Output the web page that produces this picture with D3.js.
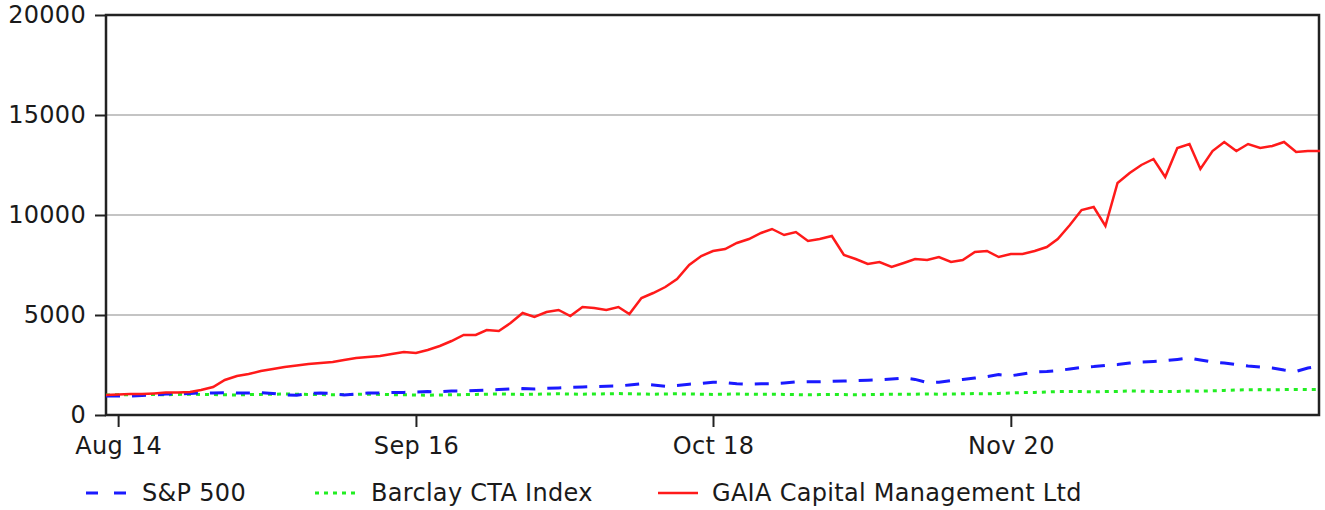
<!DOCTYPE html>
<html>
<head>
<meta charset="utf-8">
<script src="https://cdn.jsdelivr.net/npm/d3@7"></script>
<style>
  body { margin: 0; background: #fff; }
  svg { display: block; font-family: "DejaVu Sans", sans-serif; }
</style>
</head>
<body>
<div id="chart"></div>
<script>
// Monthly points, Jul 2014 .. Jan 2023
const startMonth = "2014-07";
const endMonth = "2023-01";

const sp500 = [
  950, 950, 950, 980, 1000, 1050, 1050, 1080, 1100, 1100, 1120,
  1100, 1100, 1120, 1080, 1000, 990, 1080, 1100, 1080, 1000,
  1050, 1100, 1100, 1120, 1130, 1150, 1170, 1160, 1200, 1200,
  1220, 1250, 1270, 1300, 1320, 1300, 1330, 1350, 1380, 1400,
  1420, 1440, 1450, 1500, 1560, 1500, 1440, 1480, 1540, 1580,
  1640, 1620, 1560, 1540, 1560, 1560, 1600, 1650, 1660, 1660,
  1680, 1700, 1720, 1740, 1760, 1800, 1850, 1780, 1620, 1640,
  1720, 1780, 1850, 1920, 2020, 1960, 2050, 2150, 2180, 2220,
  2300, 2380, 2420, 2480, 2520, 2600, 2650, 2680, 2720, 2780,
  2850, 2750, 2650, 2600, 2520, 2450, 2400, 2350, 2250, 2180, 2350, 2450
];

const barclay = [
  1000, 1010, 1020, 1030, 1020, 1010, 1030, 1040, 1030, 1020, 1010,
  1000, 1020, 1030, 1040, 1050, 1040, 1030, 1020, 1010, 1020,
  1030, 1040, 1030, 1020, 1010, 1000, 990, 1000, 1010, 1020,
  1030, 1040, 1050, 1040, 1030, 1040, 1050, 1060, 1050, 1040,
  1050, 1060, 1070, 1060, 1050, 1040, 1050, 1060, 1050, 1040,
  1030, 1040, 1050, 1040, 1030, 1040, 1030, 1020, 1010, 1020,
  1030, 1020, 1010, 1020, 1030, 1040, 1030, 1040, 1050, 1040,
  1050, 1060, 1070, 1060, 1080, 1100, 1120, 1130, 1150, 1170,
  1180, 1170, 1160, 1170, 1180, 1200, 1190, 1180, 1170, 1180,
  1200, 1190, 1210, 1230, 1250, 1260, 1270, 1260, 1270, 1280, 1270, 1280
];

const gaia = [
  1000, 1030, 1050, 1050, 1080, 1120, 1130, 1150, 1250, 1400, 1750,
  1950, 2050, 2200, 2300, 2400, 2480, 2550, 2600, 2650, 2750,
  2850, 2900, 2950, 3050, 3150, 3100, 3250, 3450, 3700, 4000,
  4000, 4250, 4200, 4600, 5100, 4900, 5150, 5250, 4950, 5400,
  5350, 5250, 5400, 5050, 5850, 6100, 6400, 6800, 7500, 7950,
  8200, 8300, 8600, 8800, 9100, 9300, 9000, 9150, 8700, 8800,
  8950, 8000, 7800, 7550, 7650, 7400, 7600, 7800, 7750, 7900,
  7650, 7750, 8150, 8200, 7900, 8050, 8050, 8200, 8400, 8800,
  9500, 10250, 10400, 9450, 11600, 12100, 12500, 12800, 11900, 13350,
  13550, 12300, 13200, 13650, 13200, 13550, 13350, 13450, 13650, 13150, 13200, 13200
];

const tickMonths = ["2014-08", "2016-09", "2018-10", "2020-11"];
const yTicks = [0, 5000, 10000, 15000, 20000];

const seriesNames = ["S&P 500", "Barclay CTA Index", "GAIA Capital Management Ltd"];

const width = 1325;
const height = 510;
const marginTop = 15;
const marginRight = 5;
const marginBottom = 95;
const marginLeft = 106;
const fontSize = 24;

const parseMonth = d3.utcParse("%Y-%m");
const dates = d3.utcMonth.range(parseMonth(startMonth), d3.utcMonth.offset(parseMonth(endMonth), 1));

const x = d3.scaleUtc(
  [parseMonth(startMonth), parseMonth(endMonth)],
  [marginLeft, width - marginRight]
);
const y = d3.scaleLinear([0, 20000], [height - marginBottom, marginTop]);

const svg = d3.create("svg").attr("width", width).attr("height", height);

// gridlines
svg.append("g")
  .selectAll("line")
  .data([5000, 10000, 15000])
  .join("line")
  .attr("x1", marginLeft)
  .attr("x2", width - marginRight)
  .attr("y1", d => y(d))
  .attr("y2", d => y(d))
  .attr("stroke", "#c4c4c4")
  .attr("stroke-width", 2);

const styleText = g => g.selectAll(".tick text")
  .attr("font-size", fontSize)
  .attr("letter-spacing", 0.3)
  .attr("fill", "#1a1a1a")
  .attr("font-family", "DejaVu Sans, sans-serif");

// y axis
svg.append("g")
  .attr("transform", `translate(${marginLeft},0)`)
  .call(d3.axisLeft(y).tickValues(yTicks).tickSize(11).tickPadding(9).tickFormat(d3.format("d")))
  .call(g => g.select(".domain").remove())
  .call(g => g.selectAll(".tick line").attr("stroke", "#222").attr("stroke-width", 2))
  .call(styleText);

// x axis
svg.append("g")
  .attr("transform", `translate(0,${height - marginBottom})`)
  .call(d3.axisBottom(x).tickValues(tickMonths.map(parseMonth)).tickSize(12).tickPadding(10)
    .tickFormat(d3.utcFormat("%b %y")))
  .call(g => g.select(".domain").remove())
  .call(g => g.selectAll(".tick line").attr("stroke", "#222").attr("stroke-width", 2))
  .call(styleText);

// frame
svg.append("rect")
  .attr("x", marginLeft)
  .attr("y", marginTop)
  .attr("width", width - marginRight - marginLeft - 1)
  .attr("height", height - marginBottom - marginTop)
  .attr("fill", "none")
  .attr("stroke", "#222")
  .attr("stroke-width", 2.5);

const line = d3.line()
  .x((d, i) => x(dates[i]))
  .y(d => y(d));

const styles = [
  { data: sp500, color: "#1a1aff", dash: "14,12", w: 3 },
  { data: barclay, color: "#22ee22", dash: "4,5", w: 3 },
  { data: gaia, color: "#ff1a1a", dash: null, w: 2.5 }
];

const plot = svg.append("g");
for (const s of [styles[1], styles[0], styles[2]]) {
  plot.append("path")
    .attr("fill", "none")
    .attr("stroke", s.color)
    .attr("stroke-width", s.w)
    .attr("stroke-dasharray", s.dash)
    .attr("d", line(s.data));
}

// legend
const legendX = [86, 315, 658];
const legend = svg.append("g").attr("transform", "translate(0,493)");
seriesNames.forEach((name, i) => {
  const g = legend.append("g").attr("transform", `translate(${legendX[i]},0)`);
  g.append("line")
    .attr("x1", 0).attr("x2", 40)
    .attr("stroke", styles[i].color)
    .attr("stroke-width", styles[i].w)
    .attr("stroke-dasharray", i === 0 ? "12,16" : styles[i].dash);
  g.append("text")
    .attr("x", i === 2 ? 54 : 56)
    .attr("y", 8)
    .attr("font-size", fontSize)
    .attr("letter-spacing", 0.3)
    .attr("fill", "#1a1a1a")
    .text(name);
});

d3.select("#chart").node().appendChild(svg.node());
</script>
</body>
</html>
